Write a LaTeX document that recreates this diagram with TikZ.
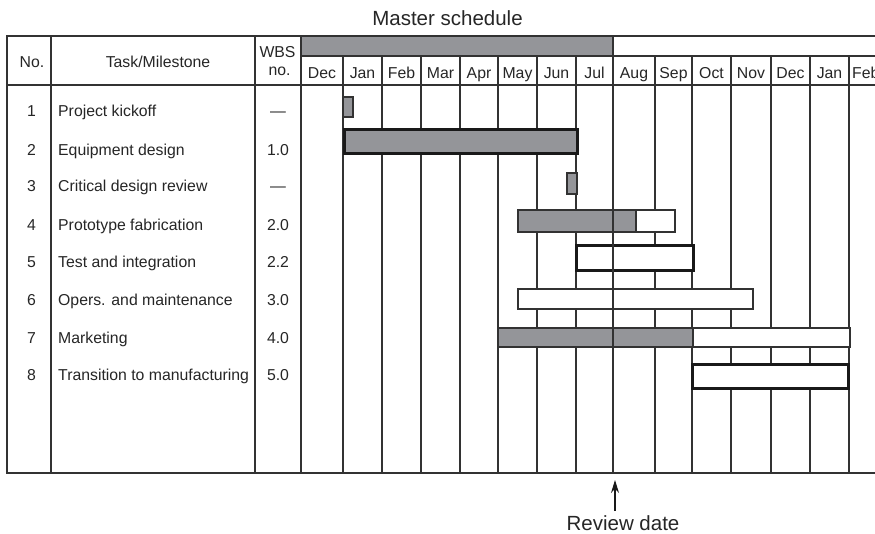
\documentclass[tikz,border=0pt]{standalone}
\usepackage{fontspec}
\setmainfont{Liberation Sans}
\usetikzlibrary{arrows.meta}
\definecolor{bargray}{RGB}{148,149,153}
\definecolor{gridline}{RGB}{50,50,50}

\begin{document}
\begin{tikzpicture}[x=1pt, y=-1pt]
    % Define styles
    \tikzstyle{celltext} = [anchor=base, inner sep=0pt, text=black!85, font=\fontsize{15.8}{18}\selectfont]
    \tikzstyle{tasktext} = [celltext, anchor=base west]
    \tikzstyle{bigtext} = [celltext, font=\fontsize{20.5}{24}\selectfont]
    \tikzstyle{grid} = [draw=gridline, line width=1.2pt]
    \tikzstyle{done} = [draw=gridline, fill=bargray, line width=1.2pt]
    \tikzstyle{todo} = [draw=gridline, fill=white, line width=1.2pt]
    \tikzstyle{keydone} = [draw=black!90, fill=bargray, line width=3pt]
    \tikzstyle{keytodo} = [draw=black!90, fill=white, line width=3pt]
    \tikzstyle{arrow} = [line width=1.2pt, draw=black!90, -{Stealth[length=13pt, width=8pt]}]

    \useasboundingbox (0,0) rectangle (875,534);
    \fill[white] (0,0) rectangle (875,534);

    % Title
    \node [bigtext] (title) at (447.5,26) {Master schedule};

    % Frame and columns
    \draw [grid] (875,36) -- (7,36) -- (7,473) -- (875,473);
    \draw [grid] (7,85) -- (875,85);
    \draw [grid] (51,36) -- (51,473);
    \draw [grid] (255,36) -- (255,473);
    \draw [grid] (301,36) -- (301,473);
    \draw [done] (301,36) rectangle (613,56);
    \draw [grid] (613,56) -- (875,56);
    \foreach \x in {343,382,421,460,498,537,576,613,655,692,731,771,810,849}
        \draw [grid] (\x,56) -- (\x,473);

    % Header
    \node [celltext] (hno) at (32,68) {No.};
    \node [celltext] (htask) at (158,68) {Task/Milestone};
    \node [celltext] (hwbs) at (277.5,57.5) {WBS};
    \node [celltext] (hwbsno) at (279.5,76) {no.};
    \foreach \name/\a/\b [count=\i] in {Dec/301/343, Jan/343/382, Feb/382/421, Mar/421/460,
        Apr/460/498, May/498/537, Jun/537/576, Jul/576/613, Aug/613/655, Sep/655/692,
        Oct/692/731, Nov/731/771, Dec/771/810, Jan/810/849}
        \node [celltext] (m\i) at ({(\a+\b)/2},79) {\name};
    \node [tasktext] (m15) at (852,79) {Feb};

    % Rows
    \node [celltext] (n1) at (31.5,117) {1};
    \node [tasktext] (t1) at (58,117) {Project kickoff};
    \node [celltext] (w1) at (278,117) {—};
    \node [celltext] (n2) at (31.5,155.5) {2};
    \node [tasktext] (t2) at (58,155.5) {Equipment design};
    \node [celltext] (w2) at (278,155.5) {1.0};
    \node [celltext] (n3) at (31.5,192) {3};
    \node [tasktext] (t3) at (58,192) {Critical design review};
    \node [celltext] (w3) at (278,192) {—};
    \node [celltext] (n4) at (31.5,231) {4};
    \node [tasktext] (t4) at (58,231) {Prototype fabrication};
    \node [celltext] (w4) at (278,231) {2.0};
    \node [celltext] (n5) at (31.5,268) {5};
    \node [tasktext] (t5) at (58,268) {Test and integration};
    \node [celltext] (w5) at (278,268) {2.2};
    \node [celltext] (n6) at (31.5,306) {6};
    \node [tasktext] (t6) at (58,306) {Opers. and maintenance};
    \node [celltext] (w6) at (278,306) {3.0};
    \node [celltext] (n7) at (31.5,344) {7};
    \node [tasktext] (t7) at (58,344) {Marketing};
    \node [celltext] (w7) at (278,344) {4.0};
    \node [celltext] (n8) at (31.5,381) {8};
    \node [tasktext] (t8) at (58,381) {Transition to manufacturing};
    \node [celltext] (w8) at (278,381) {5.0};

    % Bars
    \draw [done] (343,97) rectangle (353,117);
    \draw [keydone] (344.2,129.8) rectangle (577.8,153.5);
    \draw [done] (567,173) rectangle (577,194);
    \draw [done] (518,210) rectangle (636,232);
    \draw [todo] (636,210) rectangle (675,232);
    \draw [keytodo] (576.5,245.5) rectangle (693.5,270.5);
    \draw [todo] (518,289) rectangle (753,309);
    \draw [done] (498,328) rectangle (693,347);
    \draw [todo] (693,328) rectangle (850,347);
    \draw [keytodo] (692.5,364.5) rectangle (848.5,388.5);

    % Review date
    \draw [grid] (613,56) -- (613,473);
    \node [bigtext] (review) at (623,530) {Review date};
    \coordinate (revfoot) at (615,511);
    \coordinate (revtip) at (615,480);
    \draw [arrow] (revfoot) -- (revtip);
\end{tikzpicture}
\end{document}
